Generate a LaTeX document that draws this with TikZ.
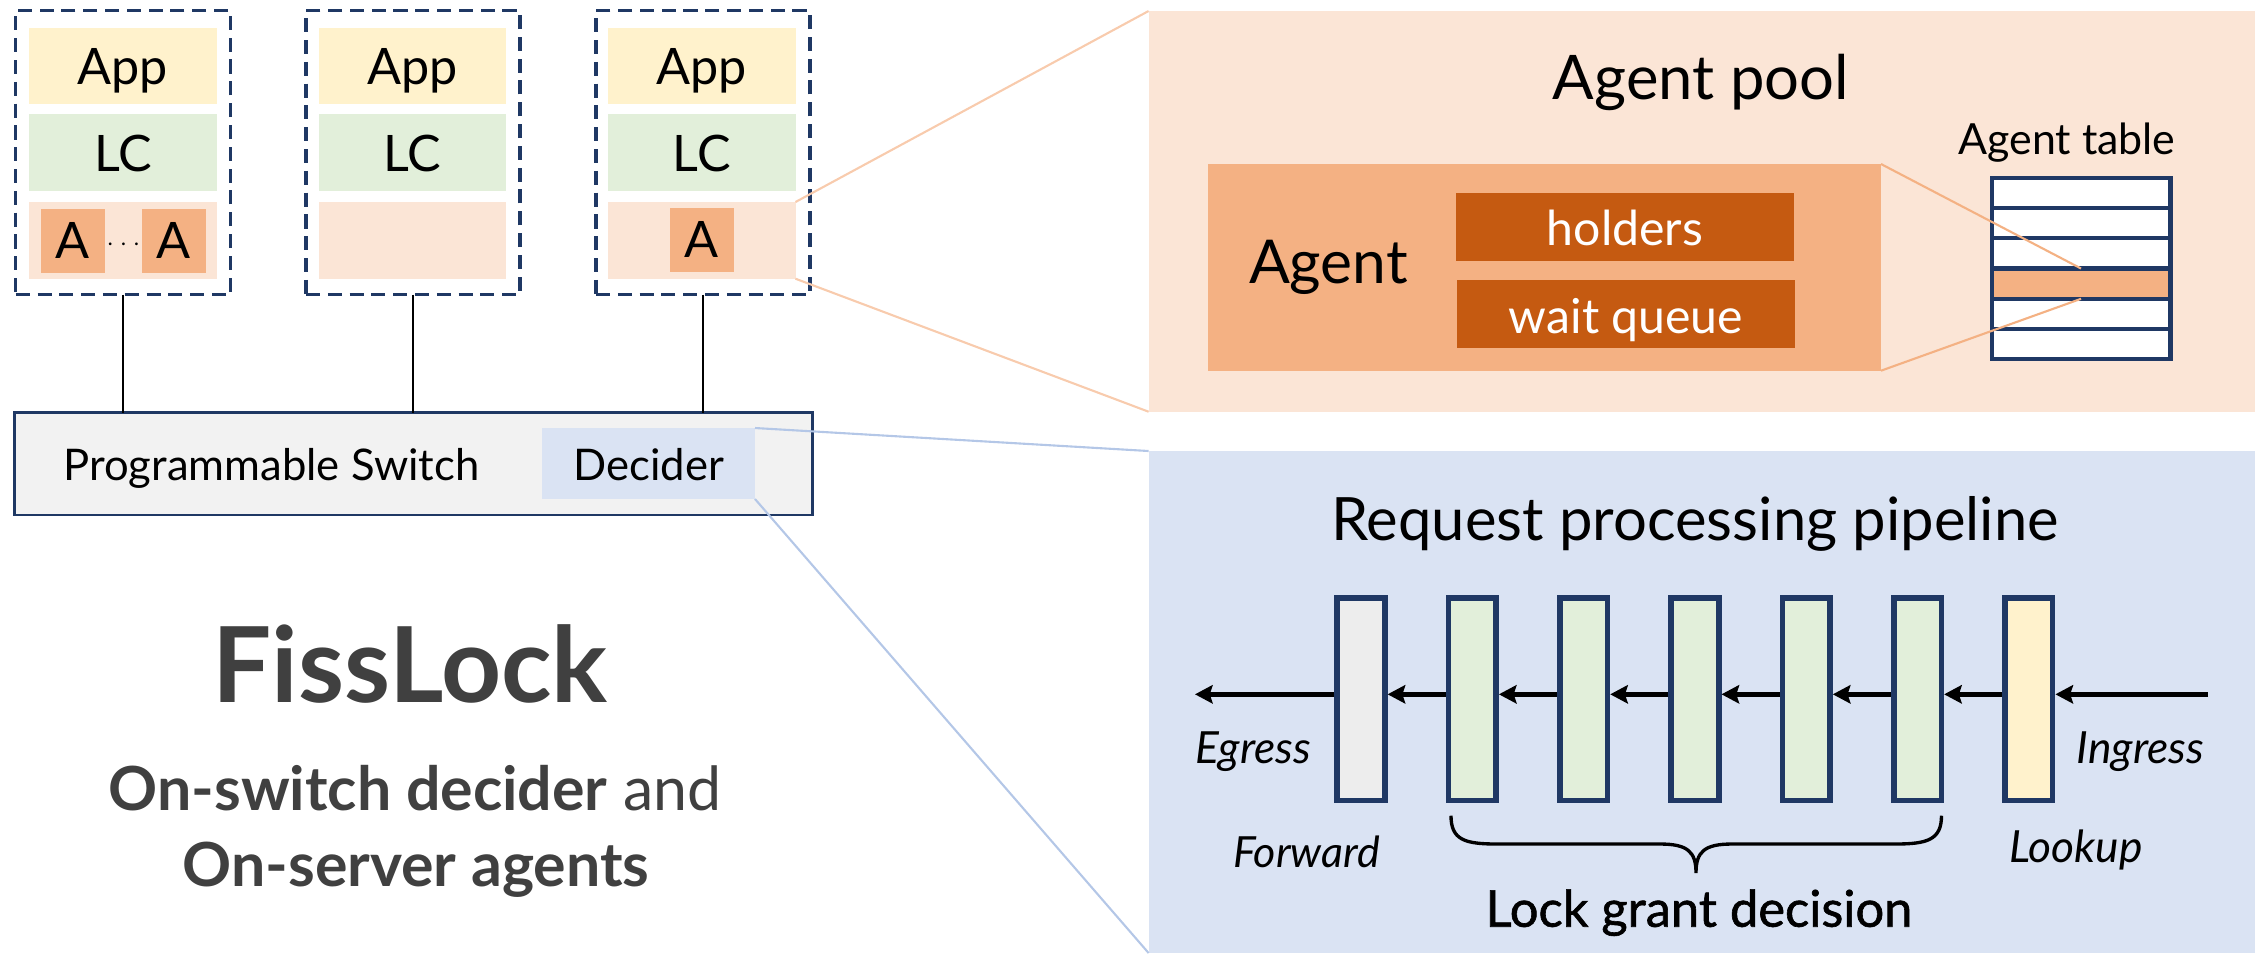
\documentclass[tikz,border=0pt]{standalone}
\usepackage{fontspec}
\setmainfont{Lato}
\newfontfamily\lockfont{Lato}[FakeBold=1.2]
\usetikzlibrary{arrows.meta,fit,calc}
\definecolor{appc}{HTML}{FFF2CC}
\definecolor{lcc}{HTML}{E2EFDA}
\definecolor{agbg}{HTML}{FBE5D6}
\definecolor{agc}{HTML}{F4B183}
\definecolor{hold}{HTML}{C55A11}
\definecolor{navy}{HTML}{1F3864}
\definecolor{swc}{HTML}{F2F2F2}
\definecolor{decc}{HTML}{DAE3F3}
\definecolor{fwdc}{HTML}{EDEDED}
\definecolor{bluel}{HTML}{B4C7E7}
\definecolor{orl}{HTML}{F8CBAD}
\definecolor{txtg}{HTML}{404040}
\newcommand{\fsz}[1]{\fontsize{#1pt}{#1pt}\selectfont}
\begin{document}
\begin{tikzpicture}[x=0.01cm,y=-0.01cm,
  fillbox/.style={inner sep=0, outer sep=0, draw=none},
  dbox/.style={inner sep=0, outer sep=0, draw=navy, line width=0.9pt, dash pattern=on 4pt off 2.2pt},
  tx/.style={inner sep=0, outer sep=0, anchor=base},
  bar/.style={draw=navy, line width=1.6pt, minimum width=0.476cm, minimum height=2.026cm, inner sep=0},
  arr/.style={line width=1.5pt, -{Stealth[length=5pt,width=5.2pt,inset=0.8pt]}},
  thinl/.style={line width=0.6pt},
]
\useasboundingbox (0,0) rectangle (2262,953);

% panels
\node[fillbox, fill=agbg, fit={(1148.6,11) (2255,411.7)}] (pool) {};
\node[fillbox, fill=decc, fit={(1148.6,451) (2255,953)}] (pipe) {};

% servers
\foreach \n/\l/\r/\il/\ir in {1/15.7/230.6/28.8/217, 2/306/520/319/506, 3/596/810/608/795.5}{
  \node[dbox, fit={(\l,10.7) (\r,294.7)}] (srv\n) {};
  \node[fillbox, fill=appc, fit={(\il,28) (\ir,103.7)}] (app\n) {};
  \node[fillbox, fill=lcc, fit={(\il,114) (\ir,190.7)}] (lc\n) {};
  \node[fillbox, fill=agbg, fit={(\il,202) (\ir,278.7)}] (row\n) {};
  \node[tx, font=\fsz{14.3}] (appt\n) at ($(app\n.center)+(0,18.5)$) {App};
  \node[tx, font=\fsz{14.3}] (lct\n) at ($(lc\n.center)+(0,18.8)$) {LC};
}
\node[fillbox, fill=agc, fit={(40.8,209) (105,272.7)}] (a1l) {};
\node[fillbox, fill=agc, fit={(142,209) (205.5,272.7)}] (a1r) {};
\node[fillbox, fill=agc, fit={(670,208) (734,271.7)}] (a3) {};
\node[tx, font=\fsz{14.3}] (a1lt) at ($(a1l.center)+(0,18)$) {A};
\node[tx, font=\fsz{14.3}] (a1rt) at ($(a1r.center)+(0,18)$) {A};
\node[tx, font=\fsz{14.3}] (a3t) at ($(a3.center)+(0,18)$) {A};
\node[inner sep=0] (dots) at (123.5,245) {\fsz{7}$\cdots$};

% switch
\node[fillbox, fill=swc, draw=navy, line width=0.8pt, fit={(14.4,412.7) (812.7,515)}] (sw) {};
\node[fillbox, fill=decc, fit={(541.7,428) (755,499)}] (dec) {};
\node[tx, font=\fsz{12.4}, anchor=base west] (swt) at (63.5,480) {Programmable Switch};
\node[tx, font=\fsz{12.4}] (dect) at (649,480) {Decider};
\foreach \n in {1,2,3}{
  \draw[line width=0.7pt] (srv\n.south) -- (srv\n.south |- sw.north);
}

% left titles
\node[tx, font=\fsz{29.8}\bfseries, text=txtg] (title) at (410,702.7) {FissLock};
\node[tx, font=\fsz{17.3}, text=txtg] (sub1) at (415,810.7) {\textbf{On-switch decider} and};
\node[tx, font=\fsz{17.3}\bfseries, text=txtg] (sub2) at (416,886) {On-server agents};

% agent pool
\node[tx, font=\fsz{17.5}] (poolt) at (1701,99) {Agent pool};
\node[fillbox, fill=agc, fit={(1208,164) (1881,370.7)}] (agent) {};
\node[tx, font=\fsz{17.2}, anchor=base west] (agentt) at (1249,283) {Agent};
\node[fillbox, fill=hold, fit={(1456,193) (1794,260.7)}] (hold) {};
\node[fillbox, fill=hold, fit={(1457,280) (1795,347.7)}] (wq) {};
\node[tx, font=\fsz{13.7}, text=white] (holdt) at (1625,245) {holders};
\node[tx, font=\fsz{13.7}, text=white] (wqt) at (1626,333) {wait queue};
\node[tx, font=\fsz{12.2}] (tablet) at (2067,154) {Agent table};
\foreach \i/\c in {1/white,2/white,3/white,4/agc,5/white,6/white}{
  \pgfmathsetmacro\ta{177.7+30.27*(\i-1)}
  \pgfmathsetmacro\tb{177.7+30.27*\i}
  \node[fillbox, draw=navy, line width=1.2pt, fill=\c, fit={(1991.6,\ta) (2170.5,\tb)}] (trow\i) {};
}
\draw[thinl, agc] (agent.north east) -- (trow4.north);
\draw[thinl, agc] (agent.south east) -- (trow4.south);

% zoom connectors
\draw[thinl, orl] (row3.north east) -- (pool.north west);
\draw[thinl, orl] (row3.south east) -- (pool.south west);
\draw[thinl, bluel] (dec.north east) -- (pipe.north west);
\draw[thinl, bluel] (dec.south east) -- (pipe.south west);

% pipeline
\node[tx, font=\fsz{17}] (pipet) at (1695,540.7) {Request processing pipeline};
\foreach \i/\c in {1/fwdc,2/lcc,3/lcc,4/lcc,5/lcc,6/lcc,7/appc}{
  \node[bar, fill=\c] (bar\i) at ({1361+111.3*(\i-1)},699.2) {};
}
\coordinate (ing) at (2208,694.3);
\coordinate (egr) at (1195,694.3);
\draw[arr] (ing) -- (ing -| bar7.east);
\foreach \i/\j in {2/1,3/2,4/3,5/4,6/5,7/6}{
  \draw[arr] (bar\i.west |- ing) -- (bar\j.east |- ing);
}
\draw[arr] (bar1.west |- ing) -- (egr);

\node[tx, font=\fsz{12.6}\itshape, anchor=base west] (egt) at (1195,763.3) {Egress};
\node[tx, font=\fsz{12.6}\itshape, anchor=base east] (ingt) at (2204,763.3) {Ingress};
\node[tx, font=\fsz{12.2}\itshape, anchor=base west] (fwdt) at (1233,867.7) {Forward};
\node[tx, font=\fsz{12.6}\itshape, anchor=base west] (lkt) at (2009.5,862.7) {Lookup};
\draw[line width=0.95pt] (1451,815.7) .. controls (1451,840) and (1465,844) .. (1497,844) -- (1660,844) .. controls (1688,844) and (1696,852) .. (1696,873) .. controls (1696,852) and (1704,844) .. (1732,844) -- (1895,844) .. controls (1927,844) and (1941.5,840) .. (1941.5,815.7);
\node[tx, font=\lockfont\fsz{14.4}] (lockt) at (1699,926.7) {Lock grant decision};
\end{tikzpicture}
\end{document}
